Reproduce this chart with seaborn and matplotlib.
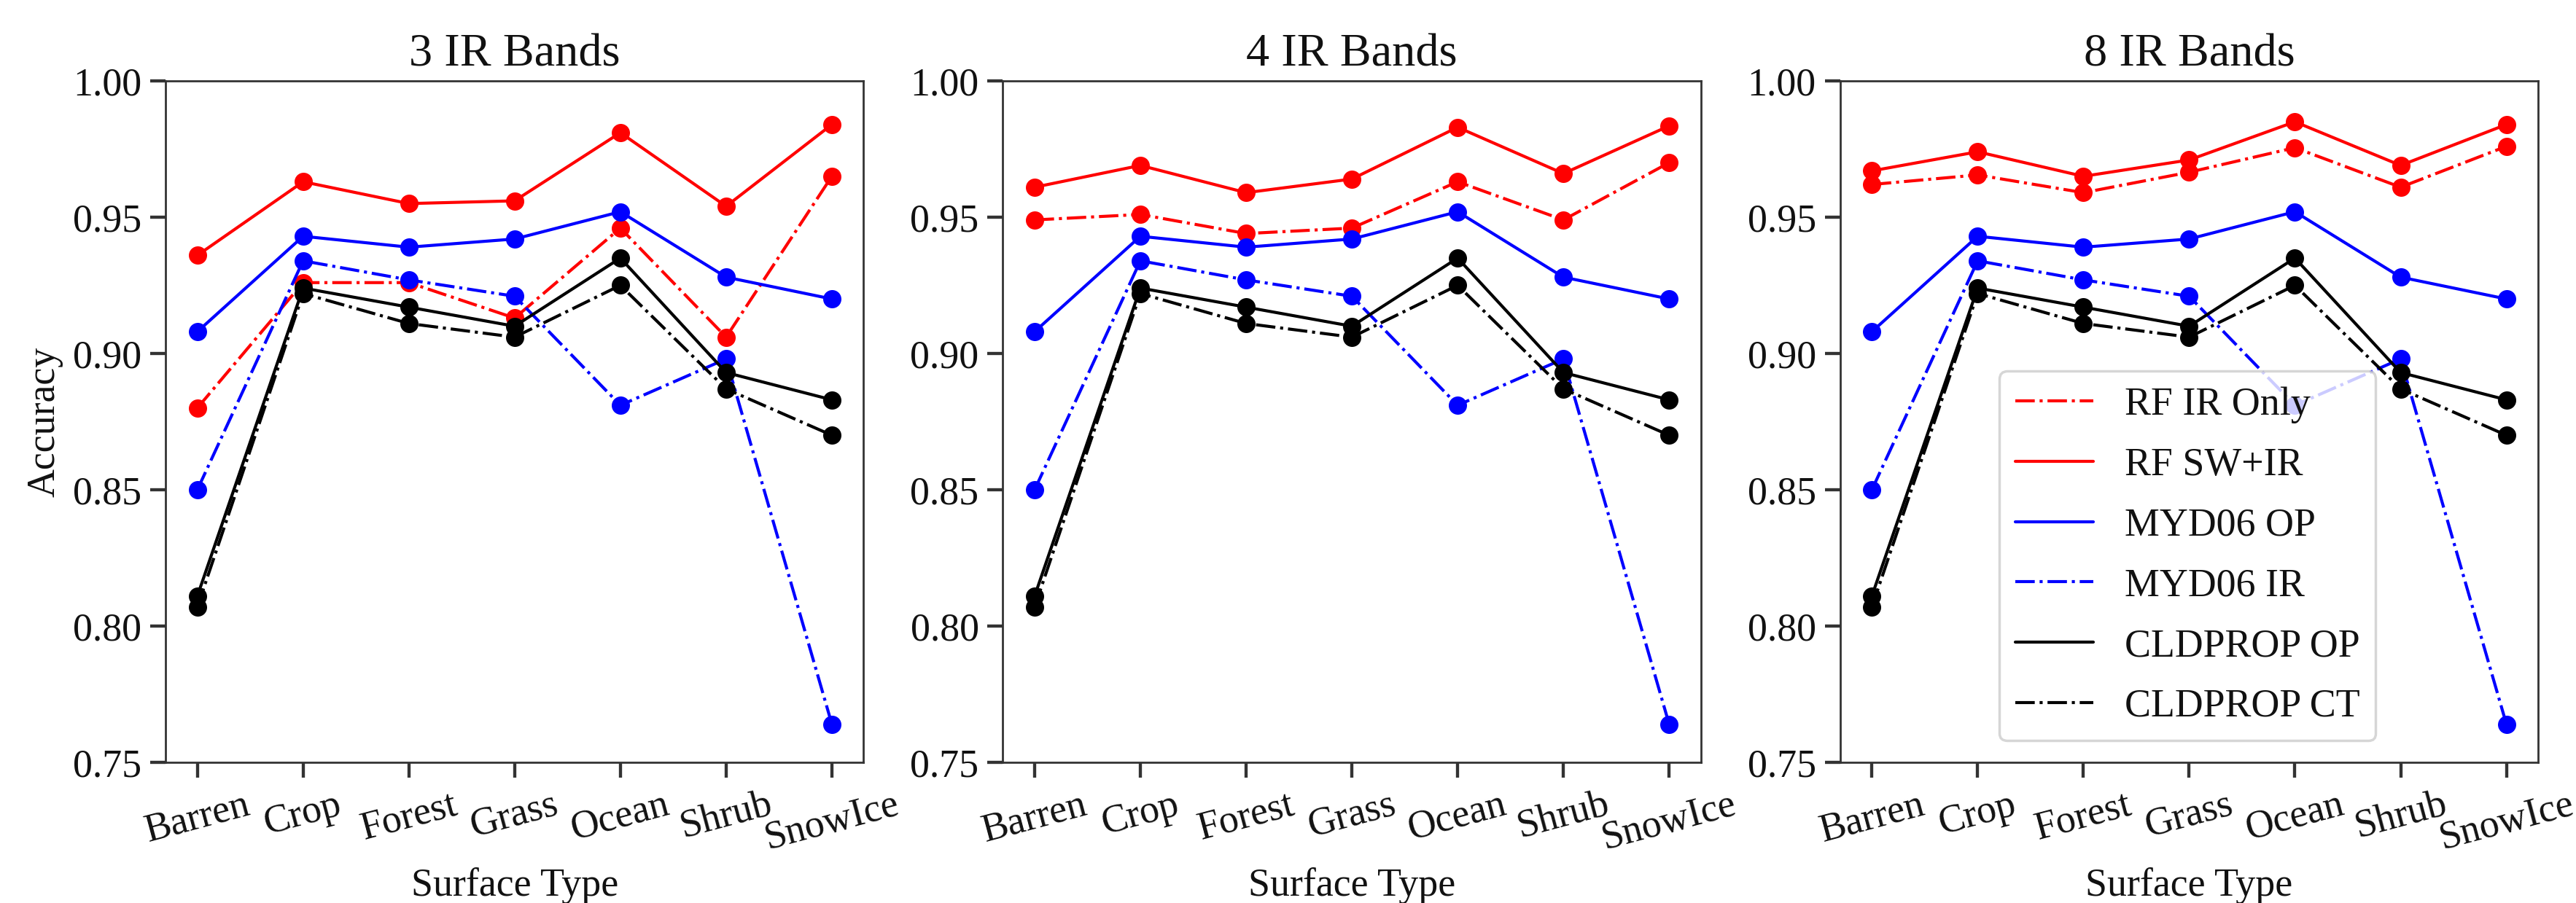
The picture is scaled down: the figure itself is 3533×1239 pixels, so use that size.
"""Accuracy by surface type for three IR band configurations."""

import matplotlib
matplotlib.use("Agg")
import matplotlib.pyplot as plt
import seaborn as sns

SURFACES = ["Barren", "Crop", "Forest", "Grass", "Ocean", "Shrub", "SnowIce"]
PANEL_TITLES = ["3 IR Bands", "4 IR Bands", "8 IR Bands"]

# RF results change with the number of IR bands
RF_IR_ONLY = [
    [0.880, 0.926, 0.926, 0.913, 0.946, 0.906, 0.965],
    [0.949, 0.951, 0.944, 0.946, 0.963, 0.949, 0.970],
    [0.962, 0.9655, 0.959, 0.9665, 0.9755, 0.961, 0.976],
]
RF_SW_IR = [
    [0.936, 0.963, 0.955, 0.956, 0.981, 0.954, 0.984],
    [0.961, 0.969, 0.959, 0.964, 0.983, 0.966, 0.9835],
    [0.967, 0.974, 0.965, 0.971, 0.985, 0.969, 0.984],
]

# operational products are the same in every panel
MYD06_OP = [0.908, 0.943, 0.939, 0.942, 0.952, 0.928, 0.920]
MYD06_IR = [0.850, 0.934, 0.927, 0.921, 0.881, 0.898, 0.764]
CLDPROP_OP = [0.811, 0.924, 0.917, 0.910, 0.935, 0.893, 0.883]
CLDPROP_CT = [0.807, 0.922, 0.911, 0.906, 0.925, 0.887, 0.870]

SERIES_STYLE = [
    ("RF IR Only", "red", "-."),
    ("RF SW+IR", "red", "-"),
    ("MYD06 OP", "blue", "-"),
    ("MYD06 IR", "blue", "-."),
    ("CLDPROP OP", "black", "-"),
    ("CLDPROP CT", "black", "-."),
]


def configure_plot_style() -> None:
    sns.set_theme(style="ticks")
    plt.rcParams.update(
        {
            "font.size": 15.5,
            "axes.titlesize": 18.5,
            "axes.labelsize": 15.5,
            "xtick.labelsize": 15.5,
            "ytick.labelsize": 15.5,
            "legend.fontsize": 15.5,
            "axes.edgecolor": "#333333",
            "axes.linewidth": 0.8,
            "text.color": "#111111",
            "axes.labelcolor": "#111111",
            "xtick.color": "#333333",
            "ytick.color": "#333333",
            "xtick.labelcolor": "#111111",
            "ytick.labelcolor": "#111111",
        }
    )
    plt.rcParams["font.family"] = ["Liberation Serif", "DejaVu Serif"]


def main() -> None:
    configure_plot_style()
    fig, axes = plt.subplots(1, 3, figsize=(14.132, 4.956), dpi=250)
    fig.subplots_adjust(left=0.0643, right=0.9853, bottom=0.1558, top=0.9104, wspace=0.1996)

    for i, ax in enumerate(axes):
        values = [RF_IR_ONLY[i], RF_SW_IR[i], MYD06_OP, MYD06_IR, CLDPROP_OP, CLDPROP_CT]
        for (name, color, ls), y in zip(SERIES_STYLE, values):
            sns.lineplot(
                x=SURFACES,
                y=y,
                sort=False,
                color=color,
                linestyle=ls,
                linewidth=1.2,
                marker="o",
                markersize=7.2,
                markeredgewidth=0,
                label=name,
                ax=ax,
            )
        ax.set_ylim(0.75, 1.0)
        ax.set_yticks([0.75, 0.80, 0.85, 0.90, 0.95, 1.00])
        ax.set_yticklabels([f"{t:.2f}" for t in [0.75, 0.80, 0.85, 0.90, 0.95, 1.00]])
        ax.tick_params(axis="x", rotation=15)
        ax.set_title(PANEL_TITLES[i])
        ax.set_xlabel("Surface Type")
        ax.set_ylabel("Accuracy" if i == 0 else "")
        if i == 2:
            leg = ax.legend(
                loc="lower left",
                bbox_to_anchor=(0.228, 0.0316),
                borderaxespad=0,
                labelspacing=0.6,
                frameon=True,
            )
            for handle in leg.get_lines():
                handle.set_marker("")
        else:
            ax.get_legend().remove()

    fig.savefig("out.png", dpi=250)
    plt.close(fig)


if __name__ == "__main__":
    main()
